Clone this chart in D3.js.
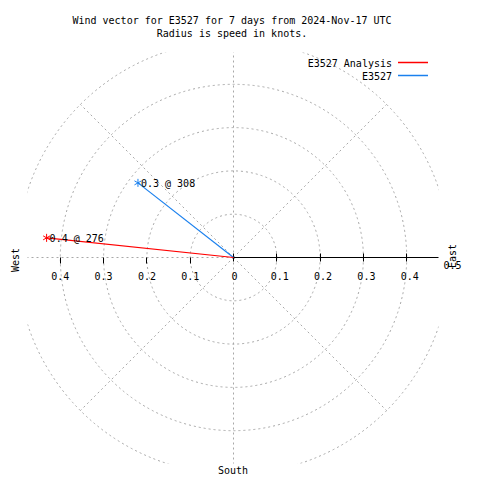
<!DOCTYPE html>
<html><head><meta charset="utf-8">
<script src="https://cdn.jsdelivr.net/npm/d3@7"></script>
<style>body{margin:0;background:#fff}svg{display:block}text{font-family:"DejaVu Sans Mono","Liberation Mono",monospace;font-size:10px;fill:#000}</style>
</head><body>
<script>
const titleLines = ["Wind vector for E3527 for 7 days from 2024-Nov-17 UTC", "Radius is speed in knots."];
const seriesNames = ["E3527 Analysis", "E3527"];
const seriesColors = ["#ff0000", "#1a80ee"];
const speeds = [0.434, 0.28];
const directions = [276, 308];
const pointLabels = ["0.4 @ 276", "0.3 @ 308"];
const ringValues = [0.1, 0.2, 0.3, 0.4, 0.5];
const spokeAngles = [0, 45, 90, 135, 180, 225, 270, 315];
const rightTicks = [0, 0.1, 0.2, 0.3, 0.4];
const leftTicks = [0.1, 0.2, 0.3, 0.4];

const W = 480, H = 480, cx = 233, cy = 257;
const svg = d3.select("body").append("svg").attr("width", W).attr("height", H);
const r = d3.scaleLinear().domain([0, 0.5]).range([0, 216.5]);
const rad = d => d * Math.PI / 180;

svg.append("clipPath").attr("id", "plotclip").append("rect")
  .attr("x", 27 - cx).attr("y", 52 - cy).attr("width", 411).attr("height", 411);

const g = svg.append("g").attr("transform", `translate(${cx + 0.5},${cy + 0.5})`);
const grid = g.append("g").attr("clip-path", "url(#plotclip)")
  .attr("fill", "none").attr("stroke", "#a8a8a8").attr("stroke-width", 1).attr("stroke-dasharray", "2,3");

grid.selectAll("circle").data(ringValues).join("circle").attr("r", d => r(d));
grid.selectAll("line").data(spokeAngles.filter(a => a !== 90)).join("line")
  .attr("x1", 0).attr("y1", 0)
  .attr("x2", a => d3.pointRadial(rad(a), r(0.5))[0])
  .attr("y2", a => d3.pointRadial(rad(a), r(0.5))[1]);

// East axis (solid)
g.append("line").attr("x1", 0).attr("y1", 0).attr("x2", 438 - cx).attr("y2", 0).attr("stroke", "#000");
g.selectAll(".rt").data(rightTicks).join("line").attr("class", "rt")
  .attr("x1", d => Math.round(r(d))).attr("x2", d => Math.round(r(d))).attr("y1", -4).attr("y2", 4).attr("stroke", "#000");
g.selectAll(".lt").data(leftTicks).join("line").attr("class", "lt")
  .attr("x1", d => -Math.round(r(d))).attr("x2", d => -Math.round(r(d))).attr("y1", 0).attr("y2", 6).attr("stroke", "#000");

g.selectAll(".rtl").data(rightTicks).join("text").attr("class", "rtl")
  .attr("x", d => r(d) + (d === 0 ? 1 : 3)).attr("y", 22).attr("text-anchor", "middle").text(d => d3.format("~g")(d));
g.selectAll(".ltl").data(leftTicks).join("text").attr("class", "ltl")
  .attr("x", d => -r(d)).attr("y", 22).attr("text-anchor", "middle").text(d => d3.format("~g")(d));
g.append("text").attr("x", 452 - cx).attr("y", 11).attr("text-anchor", "middle").text("0.5");

svg.append("text").attr("transform", "translate(19,260) rotate(-90)").attr("text-anchor", "middle").text("West");
svg.append("text").attr("transform", "translate(456,256) rotate(-90)").attr("text-anchor", "middle").text("East");
svg.append("text").attr("x", 233).attr("y", 474).attr("text-anchor", "middle").text("South");

// vectors
const order = [1, 0];
order.forEach(i => {
  const p = d3.pointRadial(rad(directions[i]), r(speeds[i]));
  g.append("line").attr("x1", 0).attr("y1", 0).attr("x2", p[0]).attr("y2", p[1])
    .attr("stroke", seriesColors[i]).attr("stroke-width", 1.2);
  g.append("path").attr("d", d3.symbol(d3.symbolAsterisk, 45)())
    .attr("transform", `translate(${p[0]},${p[1]})`).attr("stroke", seriesColors[i]).attr("fill", "none");
  g.append("text").attr("x", p[0] + 3).attr("y", p[1] + 4).text(pointLabels[i]);
});

// title
svg.selectAll(".title").data(titleLines).join("text").attr("class", "title")
  .attr("x", 232).attr("y", (d, i) => 24 + i * 13).attr("text-anchor", "middle").text(d => d);

// legend
const leg = svg.append("g");
seriesNames.forEach((n, i) => {
  const y = 62.5 + i * 13;
  leg.append("text").attr("x", 392).attr("y", y + 4).attr("text-anchor", "end").text(n);
  leg.append("line").attr("x1", 398).attr("x2", 428).attr("y1", y).attr("y2", y)
    .attr("stroke", seriesColors[i]).attr("stroke-width", 1.5);
});
</script>
</body></html>
